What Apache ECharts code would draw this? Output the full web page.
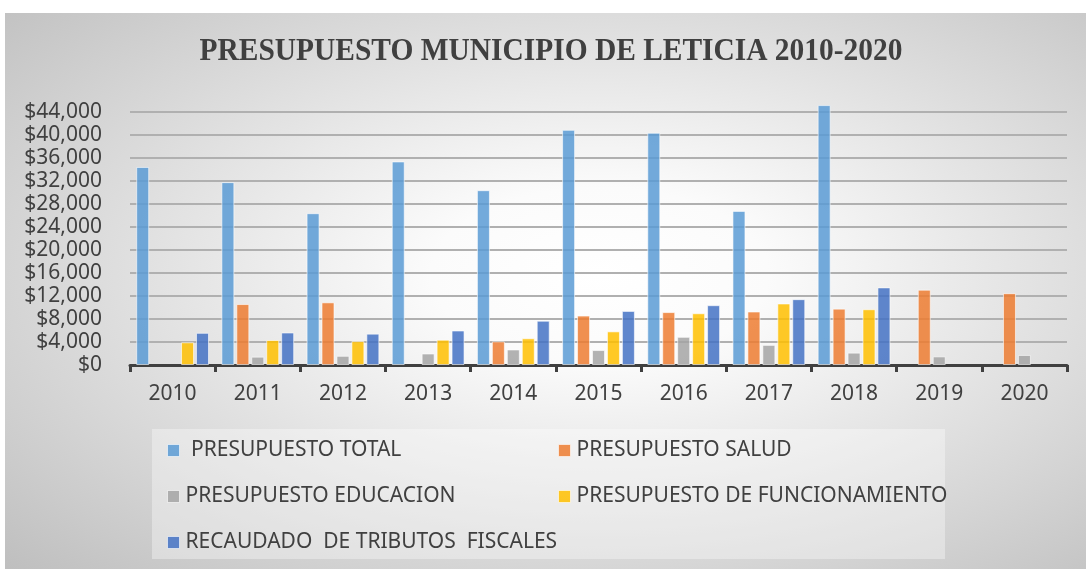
<!DOCTYPE html>
<html>
<head>
<meta charset="utf-8">
<script src="https://cdn.jsdelivr.net/npm/echarts@6/dist/echarts.min.js"></script>
<style>
  html, body { margin: 0; padding: 0; background: #fff; }
  #chart { width: 1086px; height: 569px; }
</style>
</head>
<body>
<div id="chart"></div>
<script>
// presupuesto Leticia, valores
const years = ['2010', '2011', '2012', '2013', '2014', '2015', '2016', '2017', '2018', '2019', '2020'];
const yTicks = [0, 4000, 8000, 12000, 16000, 20000, 24000, 28000, 32000, 36000, 40000, 44000];

const presupuestoTotal = [34450, 31800, 26400, 35400, 30400, 40900, 40400, 26800, 45200, null, null];
const presupuestoSalud = [null, 10600, 10900, null, 4100, 8600, 9200, 9300, 9800, 13100, 12500];
const presupuestoEducacion = [null, 1450, 1600, 2000, 2700, 2600, 4900, 3500, 2150, 1500, 1750];
const presupuestoFuncionamiento = [3950, 4350, 4150, 4400, 4650, 5850, 9000, 10700, 9700, null, null];
const recaudadoTributos = [5600, 5650, 5450, 6000, 7700, 9400, 10400, 11450, 13500, null, null];

const seriesNames = [
    ' PRESUPUESTO TOTAL',
    'PRESUPUESTO SALUD',
    'PRESUPUESTO EDUCACION',
    'PRESUPUESTO DE FUNCIONAMIENTO',
    'RECAUDADO  DE TRIBUTOS  FISCALES'
];
const seriesData = [presupuestoTotal, presupuestoSalud, presupuestoEducacion, presupuestoFuncionamiento, recaudadoTributos];
const colors = ['#5B9BD5', '#ED7D31', '#A5A5A5', '#FFC000', '#4472C4'];
const titleText = 'PRESUPUESTO MUNICIPIO DE LETICIA 2010-2020';

function money(v) {
    return '$' + String(v).replace(/\B(?=(\d{3})+(?!\d))/g, ',');
}

let chart = echarts.init(document.getElementById('chart'));

let legendText = {
    fontFamily: 'Noto Sans',
    fontSize: 21,
    color: '#404040',
    padding: [0, 0, 0, 1]
};

let option = {
    backgroundColor: '#fff',
    animation: false,
    color: colors,
    graphic: [
        {
            type: 'rect',
            z: -10,
            x: 5,
            y: 13,
            scaleX: 1081 / 556,
            shape: { x: 0, y: 0, width: 556, height: 556 },
            style: {
                fill: {
                    type: 'radial', x: 0.55, y: 0.47, r: 0.78,
                    colorStops: [
                        { offset: 0, color: '#ffffff' },
                        { offset: 0.2, color: '#fbfbfb' },
                        { offset: 1, color: '#bdbdbd' }
                    ]
                }
            },
            silent: true
        },
        {
            type: 'rect',
            z: -5,
            shape: { x: 152, y: 429, width: 793, height: 130 },
            style: { fill: 'rgba(255,255,255,0.35)' },
            silent: true
        },
        {
            // titulo: serif condensado
            type: 'text',
            x: 551,
            y: 52,
            scaleX: 0.92,
            style: {
                text: titleText,
                font: 'bold 32px "Liberation Serif"',
                fill: '#404040',
                align: 'center',
                verticalAlign: 'middle'
            },
            silent: true
        }
    ],
    legend: [
        {
            orient: 'vertical',
            left: 167,
            top: 440,
            padding: 0,
            itemWidth: 12,
            itemHeight: 12,
            itemGap: 25,
            icon: 'rect',
            itemStyle: { borderColor: 'rgba(255,255,255,0.7)', borderWidth: 1 },
            textStyle: legendText,
            data: [seriesNames[0], seriesNames[2], seriesNames[4]]
        },
        {
            orient: 'vertical',
            left: 558,
            top: 440,
            padding: 0,
            itemWidth: 12,
            itemHeight: 12,
            itemGap: 25,
            icon: 'rect',
            itemStyle: { borderColor: 'rgba(255,255,255,0.7)', borderWidth: 1 },
            textStyle: legendText,
            data: [seriesNames[1], seriesNames[3]]
        }
    ],
    grid: {
        left: 130,
        right: 19,
        top: 112,
        bottom: 204,
        containLabel: false
    },
    xAxis: {
        type: 'category',
        data: years,
        axisLine: { lineStyle: { color: '#404040', width: 3 } },
        axisTick: { show: true, length: 7, lineStyle: { color: '#404040', width: 3 } },
        axisLabel: {
            margin: 19,
            fontFamily: 'Noto Sans',
            fontSize: 21,
            color: '#404040'
        }
    },
    yAxis: {
        type: 'value',
        min: yTicks[0],
        max: yTicks[yTicks.length - 1],
        interval: 4000,
        axisLine: { show: false },
        axisTick: { show: false },
        splitLine: { lineStyle: { color: '#b0b0b0', width: 2 } },
        axisLabel: {
            margin: 28,
            fontFamily: 'Noto Sans',
            fontSize: 21,
            color: '#404040',
            formatter: money
        }
    },
    series: seriesData.map(function (d, i) {
        return {
            name: seriesNames[i],
            type: 'bar',
            data: d,
            barWidth: 13,
            barGap: '15%',
            clip: false,
            itemStyle: {
                color: colors[i],
                opacity: 0.85,
                borderColor: 'rgba(255,255,255,0.7)',
                borderWidth: 1
            }
        };
    })
};

chart.setOption(option);
</script>
</body>
</html>
